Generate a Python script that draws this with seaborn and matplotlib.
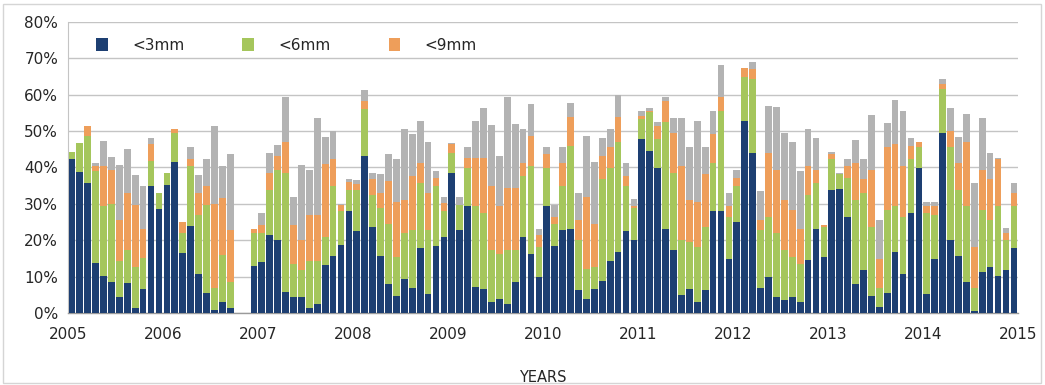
import numpy as np
import pandas as pd
import matplotlib
matplotlib.use("Agg")
import matplotlib.pyplot as plt
from matplotlib.patches import Patch, Rectangle
import seaborn as sns

nan = np.nan
years = [str(y) for y in range(2005, 2016)]

# cumulative shares (%) per month, Jan 2005 .. Dec 2014
lt3 = [42.4, 38.7, 35.6, 13.7, 10.3, 8.4, 4.4, 8.2, 1.5, 6.5, 35.0, 28.6,
       35.3, 41.5, 16.5, 23.9, 10.6, 5.4, 0.8, 3.1, 1.3, nan, nan, 13.0,
       14.0, 21.4, 20.2, 5.9, 4.3, 4.3, 1.5, 2.4, 13.2, 15.8, 18.6, 28.1,
       22.6, 43.1, 23.7, 15.8, 8.0, 4.7, 9.4, 7.0, 18.0, 5.2, 18.3, 20.9,
       38.5, 22.8, 29.3, 7.2, 6.6, 2.9, 3.8, 2.4, 8.4, 20.9, 16.3, 10.0,
       29.4, 18.3, 22.8, 23.0, 6.3, 3.8, 6.6, 8.7, 14.4, 16.8, 22.6, 20.2,
       47.8, 44.5, 39.9, 23.2, 17.2, 5.0, 6.6, 2.9, 6.3, 28.1, 27.9, 14.9,
       25.1, 52.9, 44.1, 7.0, 9.8, 4.3, 3.5, 4.4, 2.9, 14.6, 23.0, 15.4,
       33.7, 34.1, 26.5, 8.0, 11.9, 4.7, 1.7, 5.6, 16.8, 10.7, 27.4, 39.9,
       5.3, 14.9, 49.6, 20.2, 15.8, 8.4, 0.6, 11.2, 12.6, 10.3, 11.9, 18.0]
lt6 = [44.3, 46.7, 48.7, 39.0, 29.3, 30.0, 14.4, 17.2, 12.6, 15.0, 41.8, 33.1,
       38.5, 49.6, 22.0, 40.4, 27.0, 29.7, 7.0, 16.0, 8.4, nan, nan, 21.9,
       22.0, 33.9, 39.4, 38.5, 13.5, 11.7, 14.4, 14.4, 21.0, 34.8, 27.9, 33.9,
       33.9, 56.1, 32.5, 28.8, 24.6, 15.4, 21.9, 22.8, 35.7, 22.8, 34.8, 27.9,
       44.0, 29.7, 39.9, 29.3, 27.4, 17.2, 16.3, 17.2, 17.2, 37.6, 40.4, 18.1,
       39.9, 24.6, 34.8, 45.9, 20.0, 12.0, 12.6, 36.7, 39.9, 46.9, 34.8, 28.8,
       53.3, 55.2, 47.8, 52.4, 38.5, 20.0, 19.5, 18.1, 23.7, 41.3, 55.6, 26.5,
       34.8, 64.9, 64.4, 22.8, 26.5, 21.9, 17.2, 15.4, 13.5, 32.5, 35.7, 23.7,
       42.2, 38.1, 37.1, 31.1, 33.0, 23.7, 7.0, 28.3, 29.3, 26.5, 42.2, 45.5,
       27.4, 27.0, 61.7, 45.5, 33.9, 29.3, 7.0, 28.3, 25.6, 29.3, 20.0, 29.3]
lt9 = [44.3, 46.7, 51.5, 40.4, 40.4, 39.4, 25.6, 33.0, 29.7, 23.2, 46.4, 33.1,
       38.5, 50.7, 25.0, 42.2, 33.1, 35.0, 30.0, 31.6, 22.8, nan, nan, 23.0,
       24.2, 38.5, 43.1, 46.9, 24.2, 20.0, 27.0, 27.0, 41.0, 42.4, 29.7, 35.9,
       35.5, 58.4, 36.7, 33.0, 36.2, 30.6, 31.0, 37.6, 41.3, 33.0, 37.1, 30.2,
       46.4, 29.7, 42.7, 42.7, 42.7, 34.8, 29.3, 34.4, 34.4, 41.3, 48.7, 21.4,
       43.6, 26.5, 41.3, 53.8, 25.6, 32.0, 24.6, 43.1, 45.5, 53.8, 37.6, 29.5,
       54.2, 55.5, 51.5, 58.4, 49.6, 40.4, 31.1, 30.6, 38.1, 49.2, 59.4, 29.3,
       37.1, 67.4, 67.0, 25.6, 44.1, 39.4, 31.1, 28.3, 23.2, 40.4, 39.4, 24.2,
       43.6, 38.1, 40.4, 41.3, 36.7, 39.4, 14.9, 45.5, 46.4, 40.4, 45.9, 46.9,
       29.3, 29.3, 63.0, 50.1, 41.3, 46.9, 18.1, 39.4, 36.7, 42.2, 21.9, 33.0]
total = [44.3, 46.7, 51.5, 41.1, 47.3, 43.0, 40.8, 45.0, 38.0, 35.0, 48.0, 33.1,
         38.5, 50.7, 25.0, 45.7, 38.0, 42.2, 51.3, 40.4, 43.6, nan, nan, 23.0,
         27.6, 43.9, 46.1, 59.4, 32.0, 40.6, 39.4, 53.5, 48.5, 49.9, 30.0, 36.9,
         36.5, 61.4, 38.5, 38.3, 43.6, 42.2, 50.6, 49.2, 52.8, 47.0, 39.0, 32.0,
         46.7, 31.8, 45.7, 52.9, 56.3, 51.7, 43.1, 59.4, 51.9, 50.6, 57.5, 23.2,
         45.5, 29.7, 45.5, 57.8, 33.0, 48.7, 41.5, 48.0, 50.6, 59.8, 41.3, 31.3,
         55.4, 56.3, 52.6, 59.4, 53.5, 53.5, 45.5, 52.9, 45.5, 55.6, 68.1, 33.0,
         39.4, 67.4, 69.1, 33.4, 56.9, 56.6, 49.6, 47.0, 39.0, 50.7, 48.0, 24.2,
         44.3, 38.5, 42.2, 47.6, 42.2, 54.3, 25.7, 52.2, 58.6, 55.4, 48.2, 47.0,
         30.6, 30.6, 64.4, 56.3, 48.5, 54.7, 35.7, 53.5, 44.1, 42.6, 23.5, 35.6]

series_labels = ["<3mm", "<6mm", "<9mm"]
months = [f"{y}-{m:02d}" for y in range(2005, 2015) for m in range(1, 13)]

df = pd.DataFrame({"month": months, "lt3": lt3, "lt6": lt6,
                   "lt9": lt9, "total": total})

c_blue = "#1D3F72"
c_green = "#A5C65C"
c_orange = "#EE9E5A"
c_gray = "#B3B3B3"

sns.set_style("white")
plt.rcParams["font.family"] = ["DejaVu Sans"]

fig = plt.figure(figsize=(10.45, 3.85), dpi=100)
ax = fig.add_axes([0.065, 0.187, 0.909, 0.756])

for col, color in [("total", c_gray), ("lt9", c_orange),
                   ("lt6", c_green), ("lt3", c_blue)]:
    sns.barplot(data=df, x="month", y=col, order=months, color=color,
                width=0.85, errorbar=None, saturation=1, linewidth=0,
                ax=ax, zorder=3)

ax.set_ylim(0, 80)
ax.set_xlim(-0.5, len(months) - 0.5)
ax.set_yticks(range(0, 81, 10))
ax.set_yticklabels([f"{v}%" for v in range(0, 81, 10)])
ax.set_xticks([12 * i - 0.5 for i in range(len(years))])
ax.set_xticklabels(years)
ax.yaxis.grid(True, color="#C4C4C4", linewidth=1.0, zorder=0)
ax.set_axisbelow(True)
ax.tick_params(axis="both", labelsize=11, colors="#262626")
ax.tick_params(axis="x", length=4, width=0.8, color="#9A9A9A", direction="out", pad=6)
ax.tick_params(axis="y", length=4, width=0.8, color="#C4C4C4", direction="out", pad=3)
for s in ["top", "right"]:
    ax.spines[s].set_visible(False)
ax.spines["left"].set_color("#C4C4C4")
ax.spines["bottom"].set_color("#9A9A9A")
ax.spines["bottom"].set_linewidth(1.0)
ax.set_ylabel("")
ax.set_xlabel("YEARS", fontsize=10.5, color="#262626", labelpad=20)

handles = [Patch(facecolor=c, edgecolor="none") for c in (c_blue, c_green, c_orange)]
fig.legend(handles, series_labels, loc="center left",
           bbox_to_anchor=(0.092, 0.883), ncol=3, frameon=False,
           fontsize=11, handlelength=0.75, handleheight=0.9,
           handletextpad=1.6, columnspacing=3.8, borderpad=0,
           borderaxespad=0, labelcolor="#262626")

fig.patches.append(Rectangle((0.003, 0.005), 0.993, 0.985,
                             transform=fig.transFigure, fill=False,
                             edgecolor="#D5D5D5", linewidth=1.0))

fig.savefig("out.png", dpi=100)
